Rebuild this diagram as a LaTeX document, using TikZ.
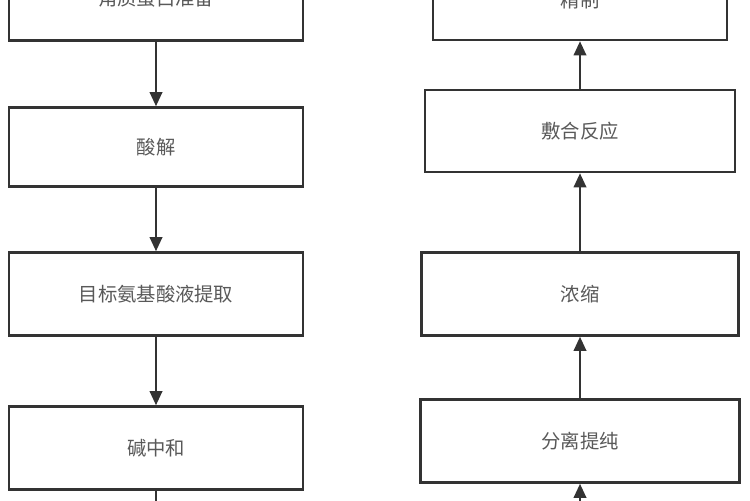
\documentclass[tikz,border=0pt]{standalone}
\usepackage{fontspec}
\newfontfamily\cjk{Noto Sans CJK SC}
\usetikzlibrary{positioning, arrows.meta}
\tikzset{ procbox/.style={draw, line width=1.4pt, draw=black!80, fill=white,
            font=\cjk\fontsize{11pt}{13pt}\selectfont, text=black!65, inner sep=0pt},
        flow/.style={-{Triangle[length=8pt,width=7pt]}, line width=1.4pt, draw=black!80}}
\begin{document}
\begin{tikzpicture}[x=0.02cm, y=-0.02cm]
\useasboundingbox (0,0) rectangle (750,500);
\clip (0,0) rectangle (750,500);

% left column
\node[procbox, minimum width=5.88cm, minimum height=1.7cm] (prep) at (156,-2) {角质蛋白准备};
\node[procbox, minimum width=5.88cm, minimum height=1.58cm] (acid) at (156,147) {酸解};
\node[procbox, minimum width=5.88cm, minimum height=1.66cm] (extr) at (156,294) {目标氨基酸液提取};
\node[procbox, minimum width=5.88cm, minimum height=1.66cm] (neut) at (156,448) {碱中和};
\coordinate (lout) at (156,520);

% right column
\node[procbox, minimum width=5.88cm, minimum height=1.6cm] (refine) at (580,0) {精制};
\node[procbox, minimum width=6.2cm, minimum height=1.64cm] (poly) at (580,131) {敷合反应};
\node[procbox, minimum width=6.34cm, minimum height=1.66cm] (conc) at (580,294) {浓缩};
\node[procbox, minimum width=6.38cm, minimum height=1.66cm] (sep) at (580,441) {分离提纯};
\coordinate (rin) at (580,520);

\foreach \a/\b in {prep/acid, acid/extr, extr/neut} %down
  \draw[flow] (\a) -- (\b);
\draw[flow] (neut) -- (lout);
\foreach \a/\b in {sep/conc, conc/poly, poly/refine} %up
  \draw[flow] (\a) -- (\b);
\draw[flow] (rin) -- (sep);

\end{tikzpicture}
\end{document}
